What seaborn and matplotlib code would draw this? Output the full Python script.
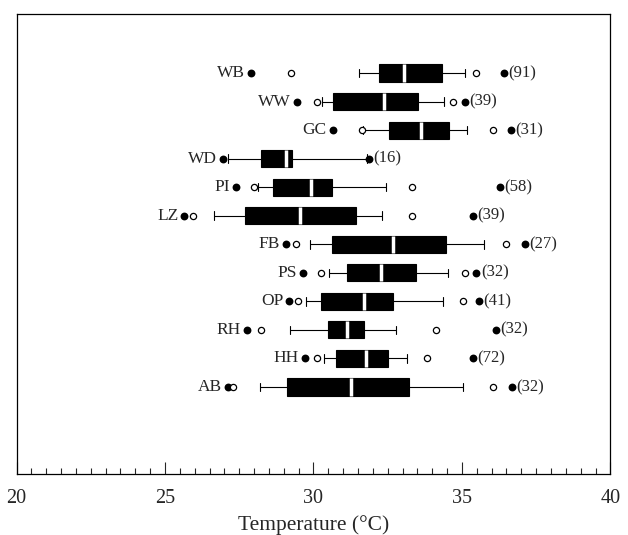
import numpy as np
import pandas as pd
import matplotlib
matplotlib.use("Agg")
import matplotlib.pyplot as plt
from matplotlib.ticker import MultipleLocator
import seaborn as sns

# ---- data ----
sites = ["WB", "WW", "GC", "WD", "PI", "LZ", "FB", "PS", "OP", "RH", "HH", "AB"]
counts = [91, 39, 31, 16, 58, 39, 27, 32, 41, 32, 72, 32]
t_min = [27.90, 29.43, 30.65, 26.94, 27.39, 25.65, 29.07, 29.64, 29.19, 27.75, 29.71, 27.13]
p_low = [29.24, 30.11, 31.62, np.nan, 28.00, 25.93, 29.41, 30.24, 29.49, 28.22, 30.11, 27.30]
whisk_low = [31.53, 30.28, 31.67, 27.13, 28.14, 26.66, 29.88, 30.52, 29.75, 29.21, 30.35, 28.20]
q1 = [32.22, 30.65, 32.55, 28.22, 28.65, 27.69, 30.61, 31.14, 30.24, 30.50, 30.76, 29.10]
median = [33.05, 32.37, 33.61, 29.08, 29.92, 29.55, 32.67, 32.27, 31.70, 31.12, 31.76, 31.25]
q3 = [34.32, 33.51, 34.57, 29.27, 30.63, 31.43, 34.45, 33.45, 32.69, 31.70, 32.52, 33.23]
whisk_high = [35.10, 34.40, 35.16, 31.79, 32.43, 32.30, 35.74, 34.52, 34.37, 32.78, 33.14, 35.04]
p_high = [35.49, 34.71, 36.05, np.nan, 33.33, 33.33, 36.50, 35.10, 35.04, 34.12, 33.83, 36.05]
t_max = [36.41, 35.10, 36.65, 31.87, 36.28, 35.38, 37.12, 35.49, 35.58, 36.14, 35.38, 36.67]
x_ticks = [20, 25, 30, 35, 40]
x_label = "Temperature (°C)"

# five-number summaries -> long table for seaborn's boxplot
rows = []
for s, a, b, c, d, e in zip(sites, whisk_low, q1, median, q3, whisk_high):
    for v in (a, b, c, d, e):
        rows.append({"site": s, "temp": v})
box_df = pd.DataFrame(rows)

sns.set_style("white")
plt.rcParams["font.family"] = ["Liberation Serif", "DejaVu Serif"]

fig = plt.figure(figsize=(6.28, 5.35), dpi=100)
ax = fig.add_axes([0.0263, 0.114, 0.9457, 0.860])

sns.boxplot(data=box_df, x="temp", y="site", order=sites, orient="h",
            whis=(0, 100), width=0.6, color="black", linecolor="black",
            linewidth=0.8, saturation=1, showfliers=False,
            medianprops={"color": "white", "linewidth": 2.5},
            ax=ax)

pos = np.arange(len(sites))
sns.scatterplot(x=t_min, y=pos, color="black", s=32, edgecolor="black",
                linewidth=0, ax=ax, zorder=5)
sns.scatterplot(x=t_max, y=pos, color="black", s=32, edgecolor="black",
                linewidth=0, ax=ax, zorder=5)
sns.scatterplot(x=p_low, y=pos, facecolor="white", edgecolor="black",
                s=20, linewidth=0.9, ax=ax, zorder=5)
sns.scatterplot(x=p_high, y=pos, facecolor="white", edgecolor="black",
                s=20, linewidth=0.9, ax=ax, zorder=5)

for i, (s, lo, hi, n) in enumerate(zip(sites, t_min, t_max, counts)):
    ax.annotate(s, xy=(lo, i), xytext=(-6, 0), textcoords="offset pixels",
                ha="right", va="center", fontsize=12.5)
    ax.annotate(f"({n})", xy=(hi, i), xytext=(4.5, 0), textcoords="offset pixels",
                ha="left", va="center", fontsize=12)

ax.set_xlim(20, 40)
ax.set_ylim(14.05, -2.07)
ax.set_xticks(x_ticks)
ax.xaxis.set_minor_locator(MultipleLocator(0.5))
ax.tick_params(axis="x", which="major", direction="in", length=8.6, width=0.8,
               labelsize=14.5, pad=11, bottom=True, top=False)
ax.tick_params(axis="x", which="minor", direction="in", length=4.3, width=0.8,
               bottom=True, top=False)
ax.set_yticks([])
ax.set_ylabel("")
ax.set_xlabel(x_label, fontsize=15.5, labelpad=5)
for sp in ax.spines.values():
    sp.set_visible(True)
    sp.set_color("black")
    sp.set_linewidth(0.9)

fig.savefig("out.png", dpi=100, facecolor="white")
